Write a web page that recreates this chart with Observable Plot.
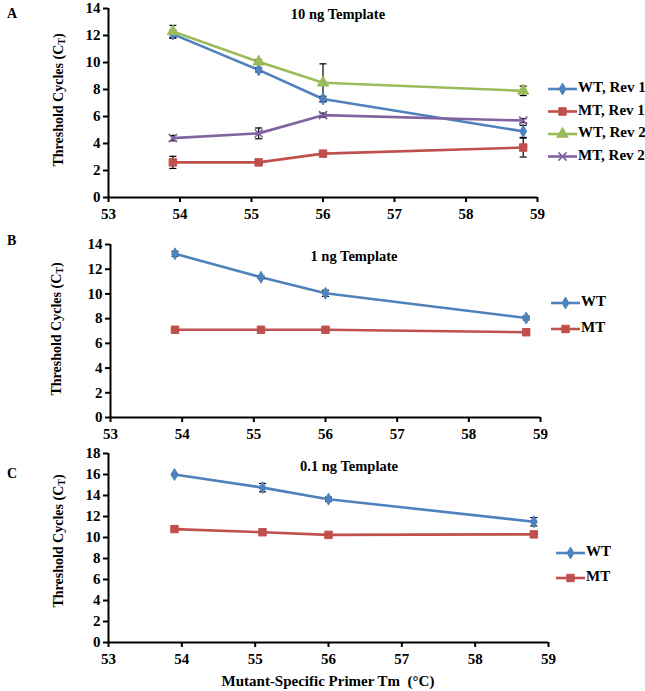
<!DOCTYPE html>
<html>
<head>
<meta charset="utf-8">
<script src="https://cdn.jsdelivr.net/npm/d3@7"></script>
<script src="https://cdn.jsdelivr.net/npm/@observablehq/plot@0.6"></script>
<style>
  html, body { margin: 0; padding: 0; background: #fff; }
  #wrap { position: relative; width: 645px; height: 691px; overflow: hidden; }
  #wrap svg { position: absolute; left: 0; overflow: visible; }
  #wrap svg text { font-family: "Liberation Serif", "Times New Roman", serif !important; font-weight: bold; }
</style>
</head>
<body>
<div id="wrap"></div>
<script>
// ---------- data ----------
const primerTm = [53.9, 55.1, 56.0, 58.8];
const xTicks = [53, 54, 55, 56, 57, 58, 59];

// Panel A: 10 ng template
const aTitle = "10 ng Template";
const aNames = ["WT, Rev 1", "MT, Rev 1", "WT, Rev 2", "MT, Rev 2"];
const aWtRev1 = [12.1, 9.45, 7.3, 4.9];
const aWtRev1Err = [0.3, 0.15, 0.2, 0.45];
const aMtRev1 = [2.6, 2.6, 3.25, 3.7];
const aMtRev1Err = [0.45, 0.1, 0.1, 0.7];
const aWtRev2 = [12.3, 10.05, 8.5, 7.9];
const aWtRev2Err = [0.45, 0.15, 1.4, 0.35];
const aMtRev2 = [4.4, 4.75, 6.1, 5.7];
const aMtRev2Err = [0.2, 0.4, 0.15, 0.15];

// Panel B: 1 ng template
const bTitle = "1 ng Template";
const bNames = ["WT", "MT"];
const bWt = [13.25, 11.35, 10.05, 8.05];
const bWtErr = [0.2, 0.1, 0.25, 0.15];
const bMt = [7.1, 7.1, 7.1, 6.9];
const bMtErr = [0.05, 0.05, 0.05, 0.05];

// Panel C: 0.1 ng template
const cTitle = "0.1 ng Template";
const cNames = ["WT", "MT"];
const cWt = [16.0, 14.75, 13.65, 11.5];
const cWtErr = [0.1, 0.4, 0.2, 0.4];
const cMt = [10.8, 10.5, 10.25, 10.3];
const cMtErr = [0.1, 0.1, 0.1, 0.1];

const xTitle = "Mutant-Specific Primer Tm  (°C)";
const yTitle = "Threshold Cycles (C";
const yTitleSub = "T";

// ---------- styles ----------
const styles = [
  {color: "#4F81BD", symbol: "diamond", r: 3.6, fill: true},
  {color: "#C0504D", symbol: "square", r: 4.2, fill: true},
  {color: "#9BBB59", symbol: "triangle", r: 4.2, fill: true},
  {color: "#8064A2", symbol: "times", r: 3.8, fill: false}
];
const FONT = "'Liberation Serif', 'Times New Roman', serif";

const capSymbol = {
  draw(ctx, size) {
    const w = Math.sqrt(size) / 2;
    ctx.moveTo(-w, 0);
    ctx.lineTo(w, 0);
  }
};

function rows(names, values, errs) {
  const out = [];
  names.forEach((n, s) => {
    primerTm.forEach((x, i) => {
      out.push({series: s, name: n, x, y: values[s][i], e: errs[s][i]});
    });
  });
  return out;
}

function panel(cfg) {
  const data = rows(cfg.names, cfg.values, cfg.errs);
  const marks = [];
  cfg.names.forEach((n, s) => {
    const d = data.filter(r => r.series === s);
    const st = styles[s];
    marks.push(Plot.line(d, {x: "x", y: "y", stroke: st.color, strokeWidth: 2.6}));
  });
  marks.push(Plot.ruleX(data, {x: "x", y1: d => d.y - d.e, y2: d => d.y + d.e, stroke: "black", strokeWidth: 1.2}));
  marks.push(Plot.dot(data, {x: "x", y: d => d.y + d.e, symbol: capSymbol, r: 4, fill: "none", stroke: "black", strokeWidth: 1.2}));
  marks.push(Plot.dot(data, {x: "x", y: d => d.y - d.e, symbol: capSymbol, r: 4, fill: "none", stroke: "black", strokeWidth: 1.2}));
  cfg.names.forEach((n, s) => {
    const d = data.filter(r => r.series === s);
    const st = styles[s];
    marks.push(Plot.dot(d, {x: "x", y: "y", symbol: st.symbol, r: st.r,
      fill: st.fill ? st.color : "none", stroke: st.color, strokeWidth: st.fill ? 1 : 1.6}));
  });
  marks.push(Plot.ruleY([0], {stroke: "black", strokeWidth: 2}));
  marks.push(Plot.ruleX([53], {stroke: "black", strokeWidth: 2}));
  marks.push(Plot.axisX({ticks: xTicks, tickSize: 5, tickPadding: 6, stroke: "black", strokeWidth: 2, label: null, tickFormat: d => String(d)}));
  marks.push(Plot.axisY({ticks: d3.range(0, cfg.yMax + 1, 2), tickSize: 5, tickPadding: 3, stroke: "black", strokeWidth: 2, label: null}));

  const svg = Plot.plot({
    width: 645,
    height: cfg.height,
    marginLeft: cfg.ml, marginRight: cfg.mr, marginTop: cfg.mt, marginBottom: cfg.mb,
    x: {domain: [53, 59]},
    y: {domain: [0, cfg.yMax]},
    style: {fontFamily: FONT, fontWeight: "bold", fontSize: "15px", color: "black", background: "transparent"},
    marks
  });
  svg.style.top = cfg.top + "px";
  const g = d3.select(svg);
  g.selectAll("text").attr("fill", "black").style("font-size", "15px");

  // title
  g.append("text").attr("x", cfg.titleX).attr("y", cfg.titleY).attr("text-anchor", "middle")
    .attr("dominant-baseline", "middle")
    .style("font-size", "14.5px").text(cfg.title);
  // panel letter
  g.append("text").attr("x", 7).attr("y", cfg.letterY).attr("text-anchor", "start").attr("dominant-baseline", "middle")
    .style("font-size", "14px").text(cfg.letter);
  // y title
  const yt = g.append("text")
    .attr("transform", `translate(${cfg.yTitleX},${cfg.yTitleY}) rotate(-90)`)
    .attr("text-anchor", "middle").attr("dominant-baseline", "middle")
    .style("font-size", "14px");
  yt.append("tspan").text(yTitle);
  yt.append("tspan").attr("font-size", "10px").attr("baseline-shift", "-3").text(yTitleSub);
  yt.append("tspan").text(")");

  // legend
  cfg.names.forEach((n, s) => {
    const st = styles[s];
    const ly = cfg.legY + s * cfg.legStep;
    g.append("line").attr("x1", cfg.legX).attr("x2", cfg.legX + 29).attr("y1", ly).attr("y2", ly)
      .attr("stroke", st.color).attr("stroke-width", 2.6);
    const symType = {diamond: d3.symbolDiamond, square: d3.symbolSquare, triangle: d3.symbolTriangle, times: d3.symbolTimes}[st.symbol];
    g.append("path").attr("d", d3.symbol(symType, Math.PI * st.r * st.r)())
      .attr("transform", `translate(${cfg.legX + 14.5},${ly})`)
      .attr("fill", st.fill ? st.color : "none").attr("stroke", st.color).attr("stroke-width", st.fill ? 1 : 1.6);
    g.append("text").attr("x", cfg.legX + 30).attr("y", ly).attr("text-anchor", "start").attr("dominant-baseline", "middle")
      .style("font-size", "15px").text(n);
  });

  if (cfg.xTitle) {
    g.append("text").attr("x", cfg.xTitleX).attr("y", cfg.xTitleY).attr("text-anchor", "middle")
      .attr("dominant-baseline", "middle")
      .style("font-size", "15px").style("white-space", "pre").text(cfg.xTitle);
  }
  document.getElementById("wrap").appendChild(svg);
}

panel({
  top: 3, height: 219, ml: 108, mr: 108, mt: 5, mb: 25, yMax: 14,
  names: aNames, values: [aWtRev1, aMtRev1, aWtRev2, aMtRev2], errs: [aWtRev1Err, aMtRev1Err, aWtRev2Err, aMtRev2Err],
  title: aTitle, titleX: 338, titleY: 13, letter: "A", letterY: 12,
  yTitleX: 60, yTitleY: 97,
  legX: 548, legY: 86, legStep: 22.5
});
panel({
  top: 222, height: 223, ml: 110, mr: 105, mt: 22, mb: 28, yMax: 14,
  names: bNames, values: [bWt, bMt], errs: [bWtErr, bMtErr],
  title: bTitle, titleX: 354, titleY: 36, letter: "B", letterY: 20,
  yTitleX: 58, yTitleY: 107,
  legX: 551, legY: 81, legStep: 26
});
panel({
  top: 445, height: 246, ml: 108, mr: 97, mt: 8, mb: 49, yMax: 18,
  names: cNames, values: [cWt, cMt], errs: [cWtErr, cMtErr],
  title: cTitle, titleX: 349, titleY: 23, letter: "C", letterY: 30,
  yTitleX: 60, yTitleY: 96,
  legX: 556, legY: 108, legStep: 25,
  xTitle: xTitle, xTitleX: 328, xTitleY: 238
});
</script>
</body>
</html>
